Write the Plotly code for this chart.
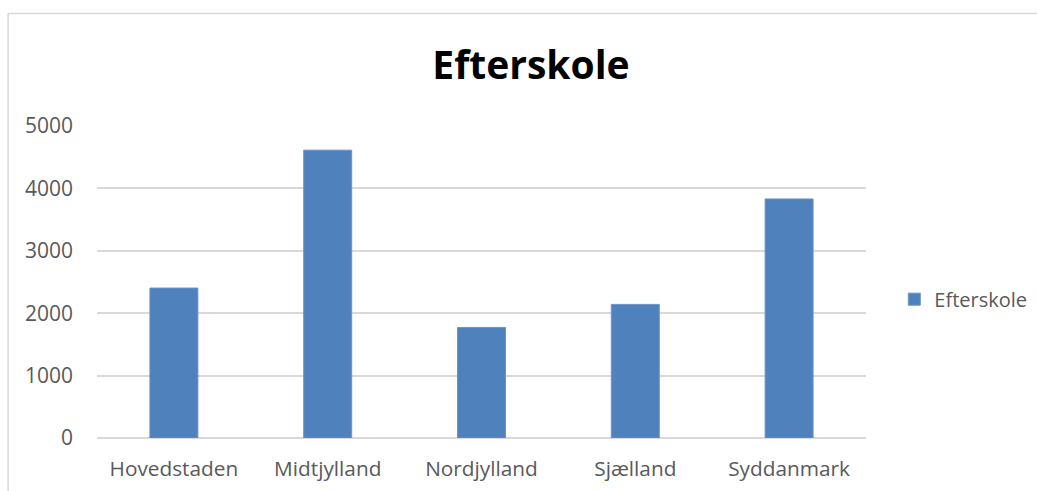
import plotly.graph_objects as go

categories = ["Hovedstaden", "Midtjylland", "Nordjylland", "Sjælland", "Syddanmark"]
values = [2403, 4613, 1772, 2141, 3831]
series_name = "Efterskole"
y_ticks = [0, 1000, 2000, 3000, 4000, 5000]

W, H = 1037, 491
L, R, T, B = 97.3, 171.3, 126.0, 53.3
pw, ph = W - L - R, H - T - B

def px_x(p):
    return (p - L) / pw

def px_y(p):
    return (H - B - p) / ph

fig = go.Figure()
fig.add_trace(go.Bar(
    x=categories, y=values, name=series_name,
    marker=dict(color="#4F81BD", line=dict(color="#6A93C6", width=1)),
))

fig.update_layout(
    width=W, height=H,
    margin=dict(l=L, r=R, t=T, b=B, autoexpand=False),
    paper_bgcolor="white", plot_bgcolor="white",
    bargap=0.688,
    showlegend=True,
    font=dict(family="Open Sans", color="#595959", size=20),
    title=dict(text="<b>Efterskole</b>", x=531 / W, xanchor="center",
               y=1 - 65.5 / H, yanchor="middle", yref="container",
               font=dict(family="Open Sans", size=39, color="black")),
    legend=dict(x=px_x(894), xanchor="left", y=px_y(299), yanchor="middle",
                font=dict(size=20, color="#595959"), bgcolor="rgba(0,0,0,0)"),
    xaxis=dict(showgrid=False, showline=False, ticks="", zeroline=False,
               tickfont=dict(size=20.8, color="#595959"), ticklabelstandoff=16),
    yaxis=dict(range=[0, 5000], tickvals=y_ticks, showgrid=True,
               gridcolor="#D9D9D9", gridwidth=1.5, zeroline=True,
               zerolinecolor="#D9D9D9", zerolinewidth=1.5, showline=False,
               ticks="", tickfont=dict(size=21, color="#595959"),
               ticklabelstandoff=23),
    shapes=[dict(type="rect", xref="paper", yref="paper",
                 x0=px_x(8.5), x1=px_x(1060), y0=px_y(520), y1=px_y(13.5),
                 line=dict(color="#D9D9D9", width=1.5), fillcolor="rgba(0,0,0,0)",
                 layer="below")],
)

fig.write_html("out.html",
               config={"displayModeBar": False},
               post_script="document.body.style.margin='0px';document.body.style.overflow='hidden';")
